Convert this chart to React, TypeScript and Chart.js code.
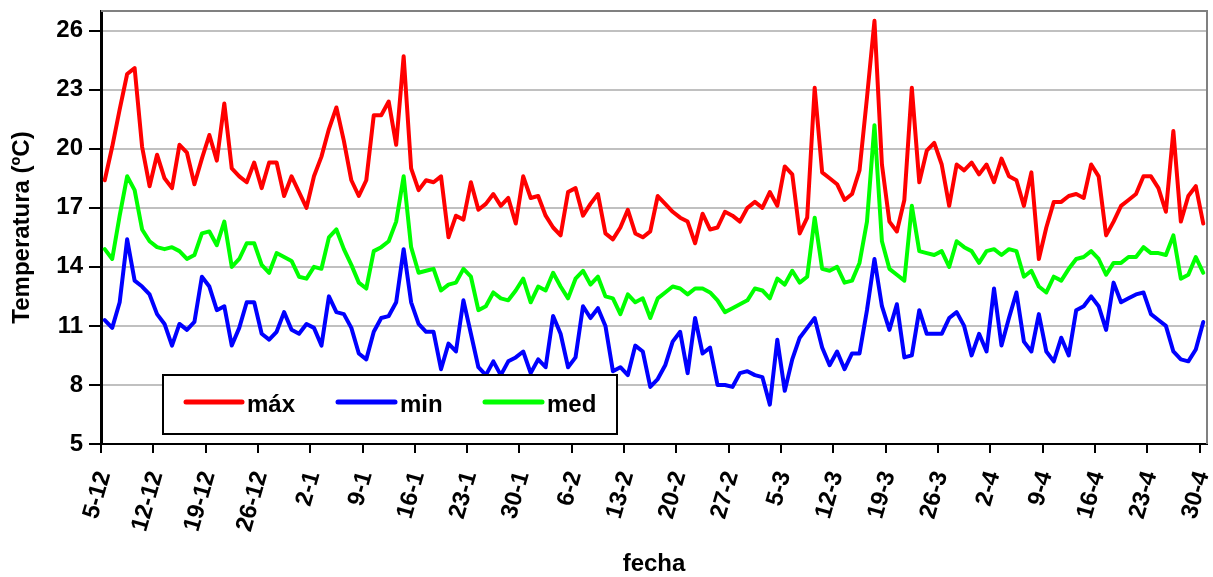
import React, { useEffect, useRef } from "react";
import { Chart, registerables } from "chart.js";

Chart.register(...registerables);

// Daily values from 5-12 to 30-4 (148 days)
const maxTemps = [
  18.4, 20.1, 22.0, 23.8, 24.1, 20.1, 18.1, 19.7, 18.5, 18.0,
  20.2, 19.8, 18.2, 19.5, 20.7, 19.4, 22.3, 19.0, 18.6, 18.3,
  19.3, 18.0, 19.3, 19.3, 17.6, 18.6, 17.8, 17.0, 18.6, 19.6,
  21.0, 22.1, 20.4, 18.4, 17.6, 18.4, 21.7, 21.7, 22.4, 20.2,
  24.7, 19.0, 17.9, 18.4, 18.3, 18.6, 15.5, 16.6, 16.4, 18.3,
  16.9, 17.2, 17.7, 17.1, 17.5, 16.2, 18.6, 17.5, 17.6, 16.6,
  16.0, 15.6, 17.8, 18.0, 16.6, 17.2, 17.7, 15.7, 15.4, 16.0,
  16.9, 15.7, 15.5, 15.8, 17.6, 17.2, 16.8, 16.5, 16.3, 15.2,
  16.7, 15.9, 16.0, 16.8, 16.6, 16.3, 17.0, 17.3, 17.0, 17.8,
  17.1, 19.1, 18.7, 15.7, 16.5, 23.1, 18.8, 18.5, 18.2, 17.4,
  17.7, 18.9, 22.6, 26.5, 19.2, 16.3, 15.8, 17.4, 23.1, 18.3,
  19.9, 20.3, 19.2, 17.1, 19.2, 18.9, 19.3, 18.7, 19.2, 18.3,
  19.5, 18.6, 18.4, 17.1, 18.8, 14.4, 16.0, 17.3, 17.3, 17.6,
  17.7, 17.5, 19.2, 18.6, 15.6, 16.3, 17.1, 17.4, 17.7, 18.6,
  18.6, 18.0, 16.8, 20.9, 16.3, 17.6, 18.1, 16.2,
];

const minTemps = [
  11.3, 10.9, 12.2, 15.4, 13.3, 13.0, 12.6, 11.6, 11.1, 10.0,
  11.1, 10.8, 11.2, 13.5, 13.0, 11.8, 12.0, 10.0, 10.9, 12.2,
  12.2, 10.6, 10.3, 10.7, 11.7, 10.8, 10.6, 11.1, 10.9, 10.0,
  12.5, 11.7, 11.6, 10.9, 9.6, 9.3, 10.7, 11.4, 11.5, 12.2,
  14.9, 12.2, 11.1, 10.7, 10.7, 8.8, 10.1, 9.7, 12.3, 10.6,
  8.9, 8.5, 9.2, 8.5, 9.2, 9.4, 9.7, 8.6, 9.3, 8.9,
  11.5, 10.6, 8.9, 9.4, 12.0, 11.4, 11.9, 11.0, 8.7, 8.9,
  8.5, 10.0, 9.7, 7.9, 8.3, 9.0, 10.2, 10.7, 8.6, 11.4,
  9.6, 9.9, 8.0, 8.0, 7.9, 8.6, 8.7, 8.5, 8.4, 7.0,
  10.3, 7.7, 9.3, 10.4, 10.9, 11.4, 9.9, 9.0, 9.7, 8.8,
  9.6, 9.6, 11.8, 14.4, 12.0, 10.8, 12.1, 9.4, 9.5, 11.8,
  10.6, 10.6, 10.6, 11.4, 11.7, 11.0, 9.5, 10.6, 9.7, 12.9,
  10.0, 11.4, 12.7, 10.2, 9.7, 11.6, 9.7, 9.2, 10.4, 9.5,
  11.8, 12.0, 12.5, 12.0, 10.8, 13.2, 12.2, 12.4, 12.6, 12.7,
  11.6, 11.3, 11.0, 9.7, 9.3, 9.2, 9.8, 11.2,
];

const medTemps = [
  14.9, 14.4, 16.6, 18.6, 17.9, 15.9, 15.3, 15.0, 14.9, 15.0,
  14.8, 14.4, 14.6, 15.7, 15.8, 15.1, 16.3, 14.0, 14.4, 15.2,
  15.2, 14.1, 13.7, 14.7, 14.5, 14.3, 13.5, 13.4, 14.0, 13.9,
  15.5, 15.9, 14.9, 14.1, 13.2, 12.9, 14.8, 15.0, 15.3, 16.3,
  18.6, 15.0, 13.7, 13.8, 13.9, 12.8, 13.1, 13.2, 13.9, 13.5,
  11.8, 12.0, 12.7, 12.4, 12.3, 12.8, 13.4, 12.2, 13.0, 12.8,
  13.7, 13.0, 12.4, 13.4, 13.8, 13.1, 13.5, 12.5, 12.4, 11.6,
  12.6, 12.2, 12.4, 11.4, 12.4, 12.7, 13.0, 12.9, 12.6, 12.9,
  12.9, 12.7, 12.3, 11.7, 11.9, 12.1, 12.3, 12.9, 12.8, 12.4,
  13.4, 13.1, 13.8, 13.2, 13.5, 16.5, 13.9, 13.8, 14.0, 13.2,
  13.3, 14.2, 16.3, 21.2, 15.3, 13.9, 13.6, 13.3, 17.1, 14.8,
  14.7, 14.6, 14.8, 14.0, 15.3, 15.0, 14.8, 14.2, 14.8, 14.9,
  14.6, 14.9, 14.8, 13.5, 13.8, 13.0, 12.7, 13.5, 13.3, 13.9,
  14.4, 14.5, 14.8, 14.4, 13.6, 14.2, 14.2, 14.5, 14.5, 15.0,
  14.7, 14.7, 14.6, 15.6, 13.4, 13.6, 14.5, 13.7,
];

// one tick label every 7 days, starting at day 0
const xTickLabels = [
  "5-12", "12-12", "19-12", "26-12", "2-1", "9-1", "16-1", "23-1",
  "30-1", "6-2", "13-2", "20-2", "27-2", "5-3", "12-3", "19-3",
  "26-3", "2-4", "9-4", "16-4", "23-4", "30-4",
];
const xTickStep = 7;
const yTicks = [5, 8, 11, 14, 17, 20, 23, 26];
const yMin = 5;
const yMax = 27;

const seriesNames = ["máx", "min", "med"];
const seriesColors = ["#FF0000", "#0000FF", "#00FF00"];

const FONT_FAMILY = "'Liberation Sans', Arial, Helvetica, sans-serif";
const font = { family: FONT_FAMILY, size: 24, weight: "bold" as const };

const framePlugin = {
  id: "frame",
  beforeDatasetsDraw(chart: any) {
    const { ctx, chartArea } = chart;
    ctx.save();
    ctx.strokeStyle = "#808080";
    ctx.lineWidth = 2;
    ctx.beginPath();
    ctx.moveTo(chartArea.left, chartArea.top);
    ctx.lineTo(chartArea.right, chartArea.top);
    ctx.lineTo(chartArea.right, chartArea.bottom);
    ctx.stroke();
    ctx.restore();
  },
};

const boxLegendPlugin = {
  id: "boxLegend",
  afterDraw(chart: any) {
    const { ctx } = chart;
    const box = { x: 163, y: 375, w: 454, h: 59 };
    const items = [
      { x0: 186, x1: 242, tx: 247 },
      { x0: 338, x1: 395, tx: 400 },
      { x0: 485, x1: 542, tx: 547 },
    ];
    ctx.save();
    ctx.fillStyle = "#FFFFFF";
    ctx.fillRect(box.x, box.y, box.w, box.h);
    ctx.strokeStyle = "#000000";
    ctx.lineWidth = 2;
    ctx.strokeRect(box.x, box.y, box.w, box.h);
    chart.data.datasets.forEach((ds: any, i: number) => {
      const it = items[i];
      ctx.strokeStyle = ds.borderColor;
      ctx.lineWidth = 5;
      ctx.lineCap = "round";
      ctx.beginPath();
      ctx.moveTo(it.x0, 402);
      ctx.lineTo(it.x1, 402);
      ctx.stroke();
      ctx.fillStyle = "#000000";
      ctx.font = `bold 24px ${FONT_FAMILY}`;
      ctx.textBaseline = "alphabetic";
      ctx.textAlign = "left";
      ctx.fillText(ds.label, it.tx, 412);
    });
    ctx.restore();
  },
};

export default function App() {
  const canvasRef = useRef<HTMLCanvasElement | null>(null);

  useEffect(() => {
    if (!canvasRef.current) return;
    const series = [maxTemps, minTemps, medTemps];
    const chart = new Chart(canvasRef.current, {
      type: "line",
      data: {
        datasets: series.map((vals, s) => ({
          label: seriesNames[s],
          data: vals.map((v, i) => ({ x: i, y: v })),
          borderColor: seriesColors[s],
          backgroundColor: seriesColors[s],
          borderWidth: 4,
          pointRadius: 0,
          tension: 0,
          borderJoinStyle: "round" as const,
          borderCapStyle: "round" as const,
        })),
      },
      options: {
        animation: false,
        responsive: false,
        devicePixelRatio: 1,
        layout: { padding: { top: 11, right: 6, left: 0, bottom: 0 } },
        plugins: {
          legend: { display: false },
          tooltip: { enabled: false },
        },
        scales: {
          x: {
            type: "linear",
            min: -0.5,
            max: maxTemps.length - 0.5,
            afterBuildTicks: (scale: any) => {
              scale.ticks = xTickLabels.map((_, k) => ({ value: k * xTickStep - 0.5 }));
            },
            afterFit: (scale: any) => {
              scale.height = 577 - 444;
              scale.paddingLeft = 0;
              scale.paddingRight = 0;
            },
            ticks: {
              autoSkip: false,
              minRotation: 74,
              maxRotation: 74,
              font,
              color: "#000000",
              padding: 15,
              labelOffset: 3,
              callback: (_v: any, idx: number) => xTickLabels[idx],
            },
            grid: {
              drawOnChartArea: false,
              drawTicks: true,
              tickLength: 9,
              color: "#000000",
              lineWidth: 2,
            },
            border: { color: "#000000", width: 2 },
            title: {
              display: true,
              text: "fecha",
              font,
              color: "#000000",
              padding: { top: 0, bottom: -2 },
            },
          },
          y: {
            min: yMin,
            max: yMax,
            afterBuildTicks: (scale: any) => {
              scale.ticks = yTicks.map((v) => ({ value: v }));
            },
            afterFit: (scale: any) => {
              scale.width = 101;
              scale.paddingTop = 0;
              scale.paddingBottom = 0;
            },
            ticks: {
              font,
              color: "#000000",
              padding: 6,
            },
            grid: {
              color: "#C0C0C0",
              lineWidth: 2,
              tickColor: "#000000",
              tickLength: 12,
            },
            border: { color: "#000000", width: 3 },
            title: {
              display: true,
              text: "Temperatura (ºC)",
              font,
              color: "#000000",
              padding: { top: 8, bottom: 0 },
            },
          },
        },
      },
      plugins: [framePlugin, boxLegendPlugin],
    });
    return () => chart.destroy();
  }, []);

  return (
    <div style={{ position: "fixed", left: 0, top: 0, width: 1213, height: 577, background: "#FFFFFF" }}>
      <canvas ref={canvasRef} width={1213} height={577} />
    </div>
  );
}
